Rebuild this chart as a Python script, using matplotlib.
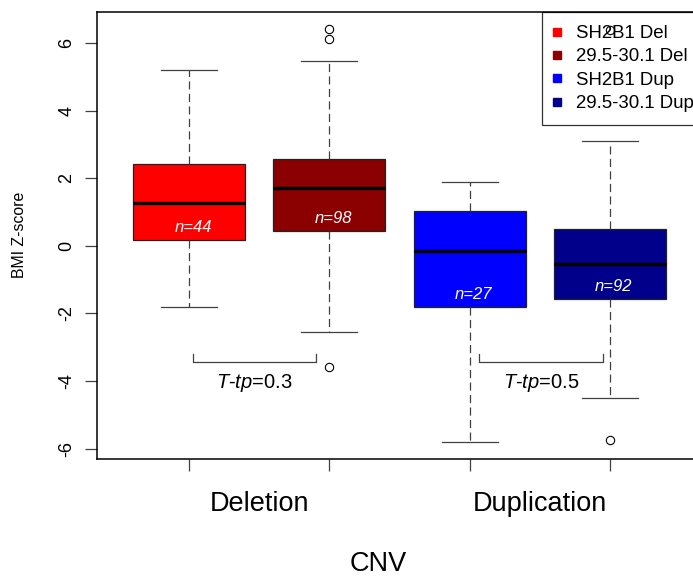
import matplotlib
matplotlib.use('Agg')
import matplotlib.pyplot as plt
from matplotlib.lines import Line2D

plt.rcParams['font.family'] = ['Liberation Sans', 'DejaVu Sans']
plt.rcParams['mathtext.fontset'] = 'custom'
plt.rcParams['mathtext.rm'] = 'Liberation Sans'
plt.rcParams['mathtext.it'] = 'Liberation Sans:italic'

# data
groups = ['SH2B1 Del', '29.5-30.1 Del', 'SH2B1 Dup', '29.5-30.1 Dup']
colors = ['#FF0000', '#8B0000', '#0000FF', '#00008B']
n_counts = [44, 98, 27, 92]
medians = [1.27, 1.70, -0.15, -0.55]
q1 = [0.16, 0.44, -1.82, -1.58]
q3 = [2.42, 2.57, 1.04, 0.49]
whisker_lo = [-1.80, -2.55, -5.82, -4.51]
whisker_hi = [5.19, 5.48, 1.90, 3.11]
outliers = [[], [6.43, 6.11, -3.58], [], [6.39, -5.76]]

cnv_types = ['Deletion', 'Duplication']
p_labels = ['0.3', '0.5']
bracket_x = [(1.024, 1.905), (3.07, 3.95)]
bracket_y = -3.44

line_col = '#404040'

fig = plt.figure(figsize=(6.93, 5.76), dpi=100)
ax = fig.add_axes([97 / 693, 117 / 576, 605 / 693, 447 / 576])

stats = []
for i in range(len(groups)):
    stats.append(dict(med=medians[i], q1=q1[i], q3=q3[i],
                      whislo=whisker_lo[i], whishi=whisker_hi[i],
                      fliers=outliers[i], label=groups[i]))

positions = list(range(1, len(groups) + 1))
bp = ax.bxp(
    stats, positions=positions, widths=0.8, patch_artist=True,
    boxprops=dict(edgecolor='#222222', linewidth=0.9),
    medianprops=dict(color='black', linewidth=2.4, solid_capstyle='butt'),
    whiskerprops=dict(color=line_col, linewidth=0.9, linestyle=(0, (6.5, 3.5))),
    capprops=dict(color=line_col, linewidth=0.9),
    capwidths=0.4,
    flierprops=dict(marker='o', markersize=6, markerfacecolor='none',
                    markeredgecolor='black', markeredgewidth=0.8),
)
for patch, c in zip(bp['boxes'], colors):
    patch.set_facecolor(c)

# n labels inside boxes
for pos, lo, n in zip(positions, q1, n_counts):
    ax.text(pos + 0.03, lo + 0.38, f'n={n}', color='white', style='italic',
            fontsize=12, ha='center', va='center')

# brackets with test results
for (x0, x1), p in zip(bracket_x, p_labels):
    ax.plot([x0, x0, x1, x1], [bracket_y + 0.24, bracket_y, bracket_y, bracket_y + 0.24],
            color=line_col, linewidth=0.9)
    ax.text((x0 + x1) / 2, bracket_y - 0.62, r'$T$-$tp$=' + p, fontsize=14.5,
            ha='center', va='center')

ax.set_xlim(0.34, 4.66)
ax.set_ylim(-6.31, 6.92)
ax.set_yticks([-6, -4, -2, 0, 2, 4, 6])
ax.set_yticklabels(['-6', '-4', '-2', '0', '2', '4', '6'])
ax.set_xticks(positions)
ax.set_xticklabels([''] * len(positions))
ax.tick_params(axis='both', length=8.6, width=0.9, color=line_col, labelsize=13)
ax.tick_params(axis='y', pad=7)
for lab in ax.get_yticklabels():
    lab.set_rotation(90)
    lab.set_va('center')
for sp in ax.spines.values():
    sp.set_linewidth(1.1)

for i, name in enumerate(cnv_types):
    ax.annotate(name, xy=(1.5 + 2 * i, 0), xycoords=('data', 'axes fraction'),
                xytext=(0, -32.5), textcoords='offset points',
                ha='center', va='center', fontsize=19.5)

fig.text(378 / 693, 1 - 564 / 576, 'CNV', ha='center', va='center', fontsize=19.5)
fig.text(20 / 693, 1 - 235 / 576, 'BMI Z-score', ha='center', va='center',
         rotation=90, fontsize=11.4)

handles = [Line2D([], [], linestyle='none', marker='s', markersize=6.3,
                  markerfacecolor=c, markeredgecolor=c) for c in colors]
leg = ax.legend(handles, groups, loc='upper right', bbox_to_anchor=(1 + 5 / 605, 1),
                borderaxespad=0, fontsize=13.4, frameon=True, fancybox=False,
                edgecolor='black', facecolor='none', framealpha=None,
                borderpad=0.7, handlelength=0.2, handletextpad=0.92,
                labelspacing=0.34)
leg.get_frame().set_linewidth(0.9)

fig.savefig('out.png', dpi=100)
